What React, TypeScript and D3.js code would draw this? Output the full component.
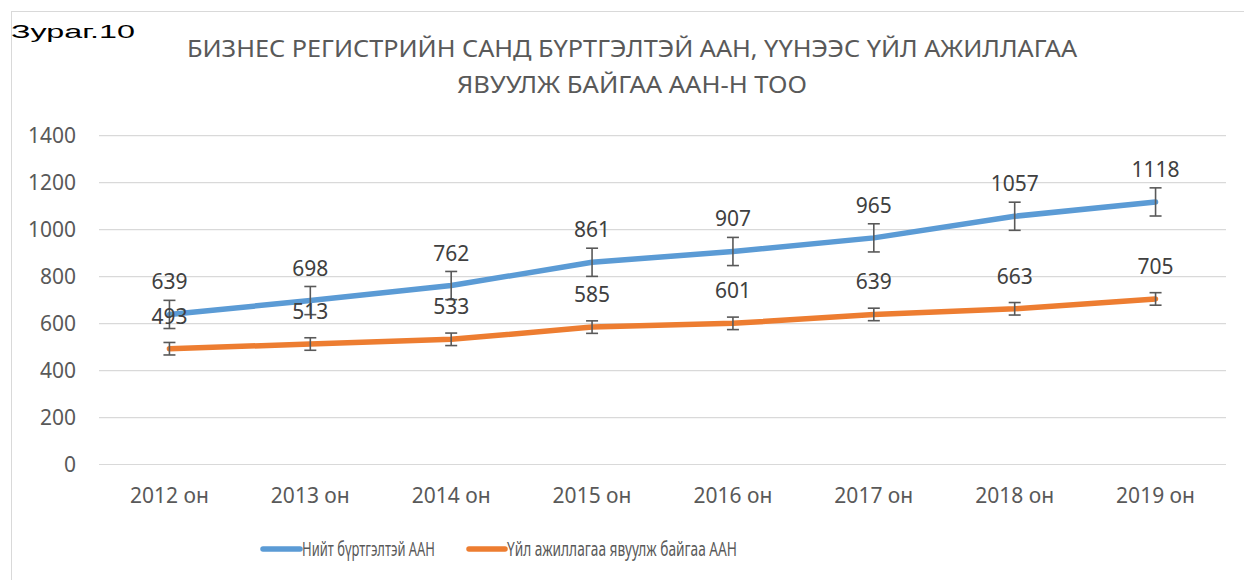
import React from "react";
import * as d3 from "d3";

const categories = ["2012 он", "2013 он", "2014 он", "2015 он", "2016 он", "2017 он", "2018 он", "2019 он"];
const totalRegistered = [639, 698, 762, 861, 907, 965, 1057, 1118];
const operating = [493, 513, 533, 585, 601, 639, 663, 705];
const yTicks = [0, 200, 400, 600, 800, 1000, 1200, 1400];
const seriesNames = ["Нийт бүртгэлтэй ААН", "Үйл ажиллагаа явуулж байгаа ААН"];
const titleLines = [
  "БИЗНЕС РЕГИСТРИЙН САНД БҮРТГЭЛТЭЙ ААН, ҮҮНЭЭС ҮЙЛ АЖИЛЛАГАА",
  "ЯВУУЛЖ БАЙГАА ААН-Н ТОО",
];
const figureLabel = "Зураг.10";

const W = 1244;
const H = 580;
const FONT = "'Noto Sans', 'Open Sans', sans-serif";

// Excel-style "standard error" error bar amount for a series
function standardError(vals: number[]): number {
  const sd = d3.deviation(vals) ?? 0;
  return sd / Math.sqrt(vals.length);
}

export default function App() {
  const x = d3.scaleBand<string>().domain(categories).range([99, 1226]);
  const y = d3.scaleLinear().domain([0, 1400]).range([464.5, 135.7]);
  const cx = (c: string) => (x(c) ?? 0) + x.bandwidth() / 2;

  const series = [
    { name: seriesNames[0], values: totalRegistered, color: "#5B9BD5" },
    { name: seriesNames[1], values: operating, color: "#ED7D31" },
  ];

  const line = d3
    .line<number>()
    .x((_, i) => cx(categories[i]))
    .y((d) => y(d));

  const legendItems = [
    { x0: 263, x1: 300, tx: 302, tw: 133 },
    { x0: 469, x1: 505, tx: 507, tw: 230 },
  ];
  const titleWidths = [890, 350];

  return (
    <svg
      width={W}
      height={H}
      style={{ position: "absolute", left: 0, top: 0, background: "#fff" }}
      fontFamily={FONT}
    >
      <rect x={0} y={0} width={W} height={H} fill="#fff" />
      {/* frame */}
      <line x1={11} y1={11.5} x2={W} y2={11.5} stroke="#d9d9d9" strokeWidth={1} />
      <line x1={11.5} y1={11} x2={11.5} y2={H} stroke="#d9d9d9" strokeWidth={1} />

      <text
        x={11}
        y={38}
        fontFamily="'Liberation Sans', Arial, sans-serif"
        fontSize={18}
        fill="#000"
        textLength={124}
        lengthAdjust="spacingAndGlyphs"
      >
        {figureLabel}
      </text>

      {/* title */}
      {titleLines.map((t, i) => (
        <text
          key={i}
          x={632}
          y={57 + i * 36}
          textAnchor="middle"
          fontSize={23.5}
          fill="#595959"
          textLength={titleWidths[i]}
          lengthAdjust="spacingAndGlyphs"
        >
          {t}
        </text>
      ))}

      {/* gridlines */}
      {yTicks.map((t) => (
        <line key={t} x1={99} x2={1226} y1={y(t)} y2={y(t)} stroke="#d9d9d9" strokeWidth={1.2} />
      ))}
      {/* y tick labels */}
      {yTicks.map((t) => (
        <text key={t} x={76} y={y(t)} dy="0.36em" textAnchor="end" fontSize={21} fill="#595959">
          {t}
        </text>
      ))}
      {/* x labels */}
      {categories.map((c) => (
        <text key={c} x={cx(c)} y={503} textAnchor="middle" fontSize={21} fill="#595959">
          {c}
        </text>
      ))}

      {/* lines */}
      {series.map((s) => (
        <path
          key={s.name}
          d={line(s.values) ?? ""}
          fill="none"
          stroke={s.color}
          strokeWidth={5.5}
          strokeLinecap="round"
          strokeLinejoin="round"
        />
      ))}

      {/* error bars */}
      {series.map((s) => {
        const se = standardError(s.values);
        return s.values.map((v, i) => {
          const px = cx(categories[i]);
          const y0 = y(v + se);
          const y1 = y(v - se);
          return (
            <g key={s.name + i} stroke="#595959" strokeWidth={1.6}>
              <line x1={px} x2={px} y1={y0} y2={y1} />
              <line x1={px - 6} x2={px + 6} y1={y0} y2={y0} />
              <line x1={px - 6} x2={px + 6} y1={y1} y2={y1} />
            </g>
          );
        });
      })}

      {/* data labels */}
      {series.map((s) =>
        s.values.map((v, i) => (
          <text
            key={s.name + "l" + i}
            x={cx(categories[i])}
            y={y(v) - 25}
            textAnchor="middle"
            fontSize={21}
            fill="#404040"
          >
            {v}
          </text>
        ))
      )}

      {/* legend */}
      {series.map((s, i) => (
        <g key={s.name + "leg"}>
          <line
            x1={legendItems[i].x0}
            x2={legendItems[i].x1}
            y1={549}
            y2={549}
            stroke={s.color}
            strokeWidth={5.5}
            strokeLinecap="round"
          />
          <text
            x={legendItems[i].tx}
            y={556}
            fontSize={19.5}
            fill="#595959"
            textLength={legendItems[i].tw}
            lengthAdjust="spacingAndGlyphs"
          >
            {s.name}
          </text>
        </g>
      ))}
    </svg>
  );
}
